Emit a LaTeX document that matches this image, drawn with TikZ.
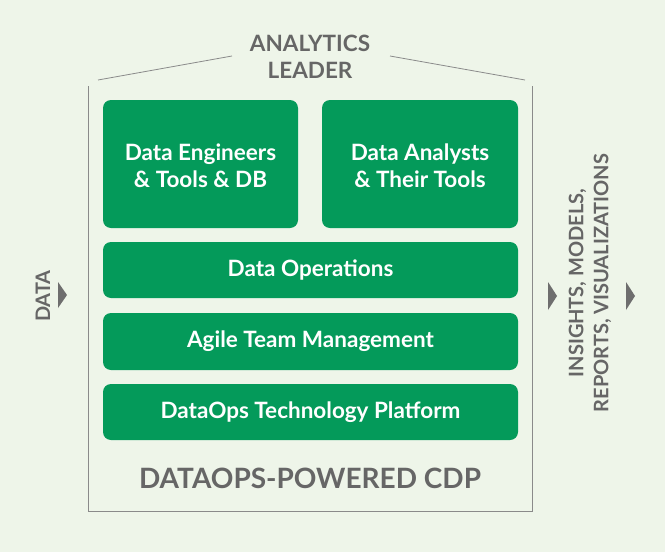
\documentclass[tikz,border=0pt]{standalone}
\usepackage{fontspec}
\setmainfont{Lato}
\begin{document}
\begin{tikzpicture}[x=1pt,y=-1pt,
  box/.style={fill=gbox,rounded corners=8pt,text=white,font=\fontsize{22.5}{27}\selectfont\bfseries,align=center},
  gray/.style={text=txt,align=center},
  tri/.style={fill=tri}]
\definecolor{bg}{HTML}{EEF5E9}
\definecolor{gbox}{HTML}{049A5A}
\definecolor{txt}{HTML}{666666}
\definecolor{tri}{HTML}{6E6E6E}
\definecolor{ln}{HTML}{8A8A8A}
\fill[bg] (0,0) rectangle (665,552);
\useasboundingbox (0,0) rectangle (665,552);
\draw[ln,line width=0.8pt] (88,86) -- (88,511) -- (532,511) -- (532,86);
\draw[ln,line width=0.8pt] (98,80) -- (232,56);
\draw[ln,line width=0.8pt] (390,56) -- (525,80);
\node[gray,font=\fontsize{22.5}{27}\selectfont\bfseries] (lead) at (310,57) {ANALYTICS\\LEADER};
\path[box] (103,100) rectangle (298,228); \node[box] (eng) at (200.5,166) {Data Engineers\\\& Tools \& DB};
\path[box] (322,100) rectangle (518,228); \node[box] (ana) at (420,166) {Data Analysts\\\& Their Tools};
\path[box] (103,242) rectangle (518,298); \node[box] (ops) at (310.5,270) {Data Operations};
\path[box] (103,313) rectangle (518,370); \node[box] (agile) at (310.5,341.5) {Agile Team Management};
\path[box] (103,384) rectangle (518,440); \node[box] (plat) at (310.5,412) {DataOps Technology Platform};
\node[gray,font=\fontsize{28}{32}\selectfont\bfseries] (cdp) at (310,478) {DATAOPS-POWERED CDP};
\node[gray,rotate=90,font=\fontsize{20}{24}\selectfont\bfseries] (data) at (43,296) {DATA};
\fill[tri] (58,282) -- (67,295) -- (58,308) -- cycle;
\node[gray,rotate=90,font=\fontsize{20}{25}\selectfont\bfseries] (out) at (590,283) {INSIGHTS, MODELS,\\REPORTS, VISUALIZATIONS};
\fill[tri] (548,282) -- (557,296) -- (548,310) -- cycle;
\fill[tri] (626,282) -- (635,296) -- (626,310) -- cycle;
\end{tikzpicture}
\end{document}
